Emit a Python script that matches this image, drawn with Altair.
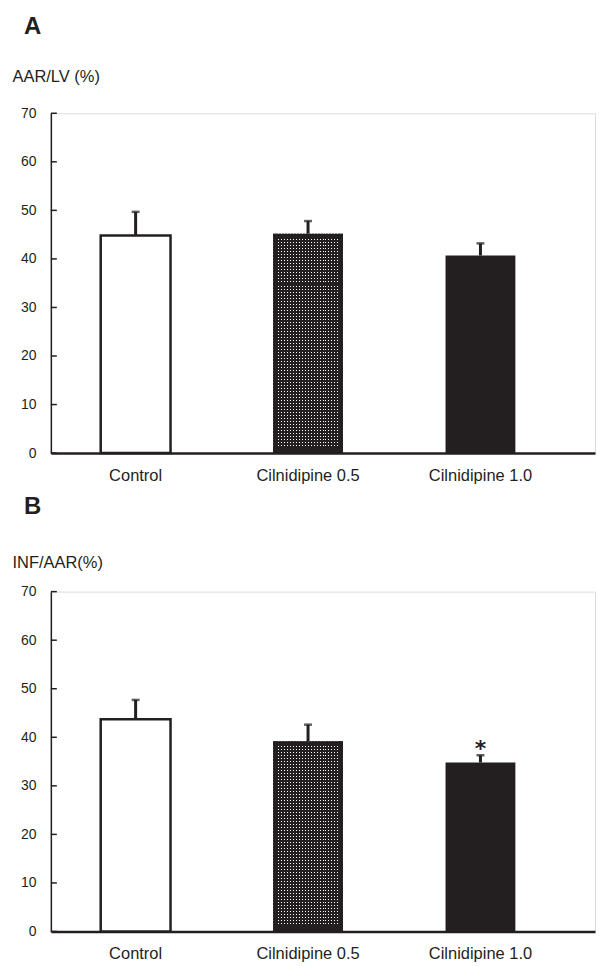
import altair as alt
import pandas as pd

# ---- data ----
groups = ["Control", "Cilnidipine 0.5", "Cilnidipine 1.0"]
aar_lv_mean = [44.8, 45.2, 40.7]
aar_lv_sem = [4.9, 2.6, 2.5]
aar_lv_sig = ["", "", ""]
inf_aar_mean = [43.7, 39.2, 34.8]
inf_aar_sem = [4.0, 3.4, 1.5]
inf_aar_sig = ["", "", "*"]
y_ticks = [0, 10, 20, 30, 40, 50, 60, 70]

# ---- style ----
INK = "#231f20"
FONT = "Liberation Sans"
PLOT_W = 546
PLOT_H = 341
Y_MAX = 70
BAND_W = 70.0


def stripe_stops(length_px, inset_a, inset_b, period, on_px, on_color, off_color):
    stops = []

    def add(pos, col):
        stops.append(alt.GradientStop(offset=round(min(max(pos / length_px, 0.0), 1.0), 5), color=col))

    add(0, off_color)
    pos = inset_a
    while pos + on_px <= length_px - inset_b:
        add(pos, off_color)
        add(pos, on_color)
        add(pos + on_px, on_color)
        add(pos + on_px, off_color)
        pos += period
    add(length_px, off_color)
    return stops


x_scale = alt.Scale(paddingInner=0.595, paddingOuter=0.3755, align=0.385)
x_axis = alt.Axis(
    title=None, labelAngle=0, labelFontSize=16.5, labelPadding=14, labelColor=INK,
    labelFont=FONT, ticks=False, domainColor=INK, domainWidth=2.5, grid=False,
)
y_scale = alt.Scale(domain=[0, Y_MAX], nice=False, zero=True)


def panel(letter, ytitle, title_y, letter_y, means, sems, sigs):
    df = pd.DataFrame({"group": groups, "mean": means, "sem": sems, "sig": sigs})
    y_axis = alt.Axis(
        values=y_ticks, title=ytitle, titleAngle=0, titleAlign="left",
        titleBaseline="alphabetic", titleX=-39, titleY=title_y, titleFontSize=16.5,
        titleFontWeight="normal", titleColor=INK, titleFont=FONT,
        ticks=False, labelPadding=15, labelFontSize=14, labelColor=INK, labelFont=FONT,
        domainColor=INK, domainWidth=1.5, grid=False,
    )
    x = alt.X("group:N", sort=groups, scale=x_scale, axis=x_axis)
    y = alt.Y("mean:Q", scale=y_scale, axis=y_axis)
    base = alt.Chart(df).transform_calculate(upper="datum.mean + datum.sem")

    ticks = alt.Chart(pd.DataFrame({"v": y_ticks})).mark_rule(
        color=INK, strokeWidth=1.5
    ).encode(x=alt.value(0), x2=alt.value(6), y=alt.Y("v:Q", scale=y_scale, axis=y_axis))

    control = base.transform_filter(alt.datum.group == groups[0]).mark_bar(
        fill="white", stroke=INK, strokeWidth=2.5
    ).encode(x=x, y=y)

    # dotted (screened) bar: white rows underneath, dark columns with gaps on top
    bar_h = means[1] / Y_MAX * PLOT_H
    rows = alt.LinearGradient(
        gradient="linear", x1=0, x2=0, y1=0, y2=1,
        stops=stripe_stops(bar_h, 5, 5, 3, 1, "#ffffff", INK),
    )
    cols = alt.LinearGradient(
        gradient="linear", x1=0, x2=1, y1=0, y2=0,
        stops=stripe_stops(BAND_W, 4.5, 2.5, 3, 1, "rgba(35,31,32,0)", INK),
    )
    mid = base.transform_filter(alt.datum.group == groups[1])
    mid_rows = mid.mark_bar(fill=rows).encode(x=x, y=y)
    mid_cols = mid.mark_bar(fill=cols).encode(x=x, y=y)

    high = base.transform_filter(alt.datum.group == groups[2]).mark_bar(
        fill=INK
    ).encode(x=x, y=y)

    err = base.mark_rule(color=INK, strokeWidth=3).encode(
        x=x, y=y, y2="upper:Q"
    )
    cap = base.mark_tick(color=INK, thickness=2.5, size=8, orient="horizontal").encode(
        x=x, y=alt.Y("upper:Q", scale=y_scale, axis=y_axis)
    )
    star = base.mark_text(
        fontSize=22, baseline="alphabetic", dy=1, color=INK, font="DejaVu Sans",
        fontWeight="bold",
    ).encode(
        x=x, y=alt.Y("upper:Q", scale=y_scale, axis=y_axis), text="sig:N"
    )
    tag = alt.Chart(pd.DataFrame({"t": [letter]})).mark_text(
        fontSize=24, fontWeight="bold", align="left", baseline="alphabetic",
        color=INK, font="Liberation Sans",
    ).encode(text="t:N", x=alt.value(-27), y=alt.value(letter_y))

    return alt.layer(ticks, control, mid_rows, mid_cols, high, err, cap, star, tag).properties(
        width=PLOT_W, height=PLOT_H
    )


chart_a = panel("A", "AAR/LV (%)", -31.5, -80, aar_lv_mean, aar_lv_sem, aar_lv_sig)
chart_b = panel("B", "INF/AAR(%)", -24, -78, inf_aar_mean, inf_aar_sem, inf_aar_sig)

chart = alt.vconcat(chart_a, chart_b, spacing=10).properties(
    padding={"left": 3, "top": 4, "right": 0, "bottom": 0}
).configure_view(stroke=None).configure(font=FONT, background="white")

chart.save("out.html", embed_options={"renderer": "svg", "actions": False})
